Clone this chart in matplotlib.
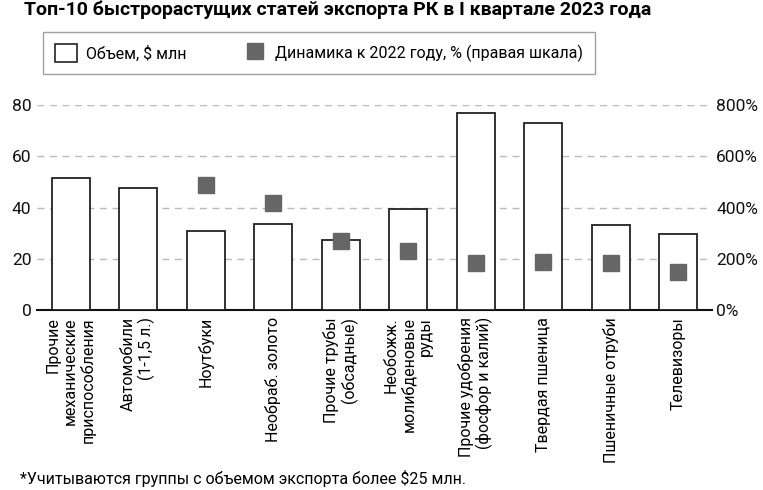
import matplotlib
matplotlib.use("Agg")
import matplotlib.pyplot as plt
from matplotlib.lines import Line2D
from matplotlib.patches import Patch
import numpy as np

plt.rcParams['font.family'] = ['Roboto', 'DejaVu Sans']

categories = [
    "Прочие\nмеханические\nприспособления",
    "Автомобили\n(1-1,5 л.)",
    "Ноутбуки",
    "Необраб. золото",
    "Прочие трубы\n(обсадные)",
    "Необожж.\nмолибденовые\nруды",
    "Прочие удобрения\n(фосфор и калий)",
    "Твердая пшеница",
    "Пшеничные отруби",
    "Телевизоры",
]
volume = [51.4, 47.5, 30.8, 33.7, 27.4, 39.3, 77.0, 73.1, 33.0, 29.8]
growth = [np.nan, np.nan, 488, 417, 269, 232, 185, 189, 185, 150]

left_ticks = [0, 20, 40, 60, 80]
right_ticks = [0, 200, 400, 600, 800]

title = "Топ-10 быстрорастущих статей экспорта РК в I квартале 2023 года"
footnote = "*Учитываются группы с объемом экспорта более $25 млн."

fig = plt.figure(figsize=(7.63, 4.9), dpi=100)
ax = fig.add_axes([0.0485, 0.367, 0.8845, 0.419])
ax2 = ax.twinx()

x = np.arange(len(categories))
ax.bar(x, volume, width=0.56, color="white", edgecolor="#222222", linewidth=1.3, zorder=3)
ax2.plot(x, growth, linestyle="none", marker="s", markersize=11,
         color="#666666", zorder=4)

ax.set_xlim(-0.5, len(categories) - 0.5)
ax.set_ylim(0, 80)
ax2.set_ylim(0, 800)
ax.set_yticks(left_ticks)
ax2.set_yticks(right_ticks)
ax2.set_yticklabels([f"{v}%" for v in right_ticks])

# dashed horizontal grid
ax.yaxis.grid(True, linestyle=(0, (5, 4)), color="#bbbbbb", linewidth=1, zorder=0)
ax.set_axisbelow(True)

for a in (ax, ax2):
    for s in ("top", "left", "right", "bottom"):
        a.spines[s].set_visible(False)
    a.tick_params(axis="y", length=0, labelsize=12.5, colors="#111111")
ax.spines["bottom"].set_visible(True)
ax.spines["bottom"].set_linewidth(1.5)
ax.spines["bottom"].set_color("#111111")
ax.tick_params(axis="y", pad=4)
ax2.tick_params(axis="y", pad=3)

ax.set_xticks(x)
ax.set_xticklabels(categories, rotation=90, fontsize=11.5, va="top", ha="center",
                   multialignment="right", linespacing=1.15)
ax.tick_params(axis="x", length=0, pad=5)

handles = [
    Patch(facecolor="white", edgecolor="#222222", linewidth=1.2),
    Line2D([], [], linestyle="none", marker="s", markersize=11, color="#666666"),
]
labels = ["Объем, $ млн", "Динамика к 2022 году, % (правая шкала)"]
fig.legend(handles, labels, loc="upper left", bbox_to_anchor=(0.0459, 0.95),
           ncol=2, fontsize=11.5, frameon=True, fancybox=False,
           edgecolor="#888888", columnspacing=3.6, handlelength=1.4,
           handleheight=1.3, borderpad=0.75, handletextpad=0.55)

fig.text(0.031, 0.999, title, fontsize=14, fontweight="bold", va="top", ha="left")
fig.text(0.026, 0.006, footnote, fontsize=11.5, va="bottom", ha="left")

fig.savefig("out.png", dpi=100)
